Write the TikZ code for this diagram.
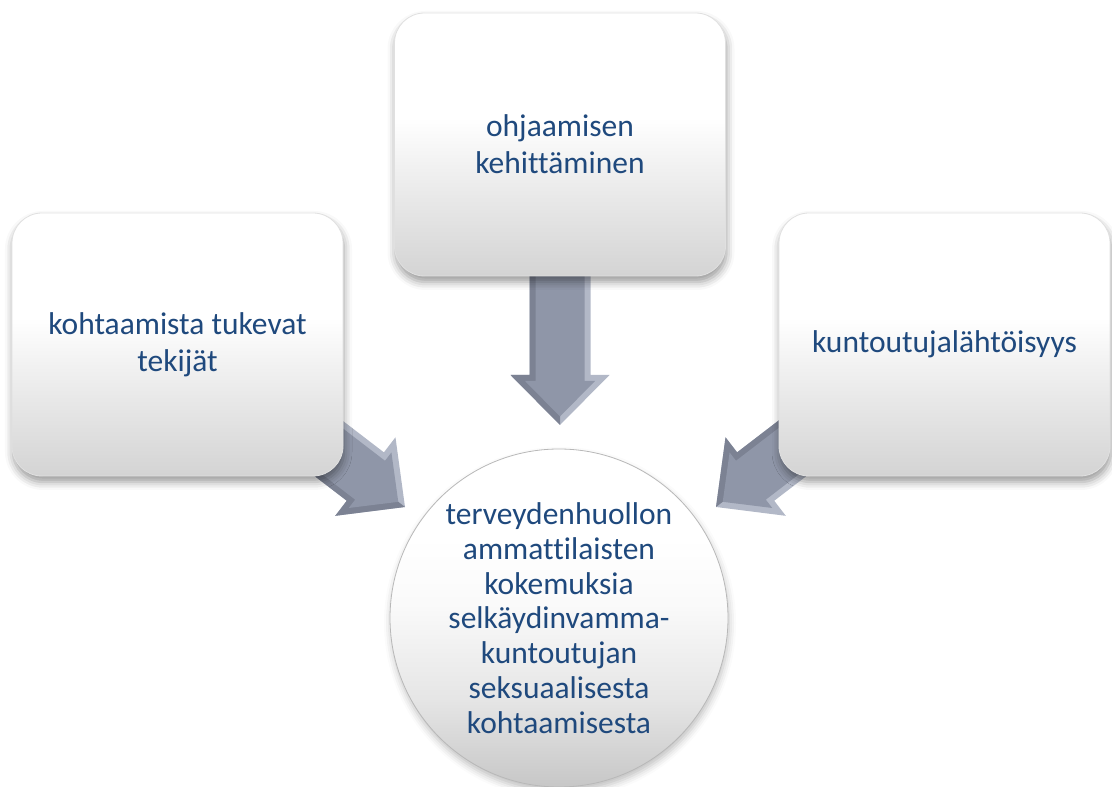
\documentclass[tikz,border=0pt]{standalone}
\usepackage{fontspec}
\setmainfont{Carlito}[Ligatures={NoCommon,NoContextual,NoRequired}]
\usetikzlibrary{shadows.blur}
\definecolor{txt}{RGB}{31,73,125}
\definecolor{arrowmain}{RGB}{143,150,168}
\definecolor{arrowlight}{RGB}{178,184,199}
\definecolor{arrowdark}{RGB}{124,130,147}
\pgfdeclareverticalshading{hubshade}{100bp}{color(0bp)=(black!22); color(25bp)=(black!22); color(38bp)=(black!10); color(52bp)=(black!2); color(62bp)=(white); color(100bp)=(white)}
\pgfdeclareverticalshading{cardshade}{100bp}{color(0bp)=(black!17); color(25bp)=(black!17); color(45bp)=(black!6); color(55bp)=(white); color(100bp)=(white)}
\newcommand\blockarrow[3]{%
  \begin{scope}[shift={#1},rotate=#2]
    \fill[arrowlight] (0,0) -- (-50,49.5) -- (-50,30.5) -- (-#3,30.5) -- (-#3,-30.5) -- (-50,-30.5) -- (-50,-49.5) -- cycle;
    \fill[arrowdark] (0,0) -- (-#3,0) -- (-#3,-30.5) -- (-50,-30.5) -- (-50,-49.5) -- cycle;
    \fill[arrowmain] (-8.5,0) -- (-44,35) -- (-44,24.5) -- (-#3,24.5) -- (-#3,-24.5) -- (-44,-24.5) -- (-44,-35) -- cycle;
  \end{scope}}
\tikzset{
  card/.style={rectangle, rounded corners=30pt, minimum width=331pt, minimum height=263pt,
    draw=black!12, line width=0.8pt, shading=cardshade,
    blur shadow={shadow xshift=1pt, shadow yshift=-6pt, shadow blur radius=8pt, shadow opacity=40},
    text=txt, align=center, font=\fontsize{31.5}{36.7}\selectfont},
  hub/.style={circle, minimum size=338pt, inner sep=0pt,
    draw=black!28, line width=0.8pt, shading=hubshade,
    blur shadow={shadow xshift=1pt, shadow yshift=-5pt, shadow blur radius=7pt, shadow opacity=25},
    text=txt, align=center, font=\fontsize{31.5}{34.8}\selectfont}
}
\begin{document}
\begin{tikzpicture}[x=1pt,y=1pt]
  \useasboundingbox (0,0) rectangle (1112,787);
  \coordinate (tipT) at (560,362);
  \coordinate (tipL) at (405,280);
  \coordinate (tipR) at (716,280);
  \blockarrow{(tipT)}{-90}{200}
  \blockarrow{(tipL)}{-37.5}{200}
  \blockarrow{(tipR)}{-142.5}{200}
  \node[card] (lbox) at (177.5,442.5) {kohtaamista tukevat\\tekijät};
  \node[card] (tbox) at (560,642.5) {ohjaamisen\\kehittäminen};
  \node[card] (rbox) at (944.5,442.5) {kuntoutujalähtöisyys};
  \node[hub] (hub) at (559,169) {terveydenhuollon\\ammattilaisten\\kokemuksia\\selkäydinvamma-\\kuntoutujan\\seksuaalisesta\\kohtaamisesta};
\end{tikzpicture}
\end{document}
